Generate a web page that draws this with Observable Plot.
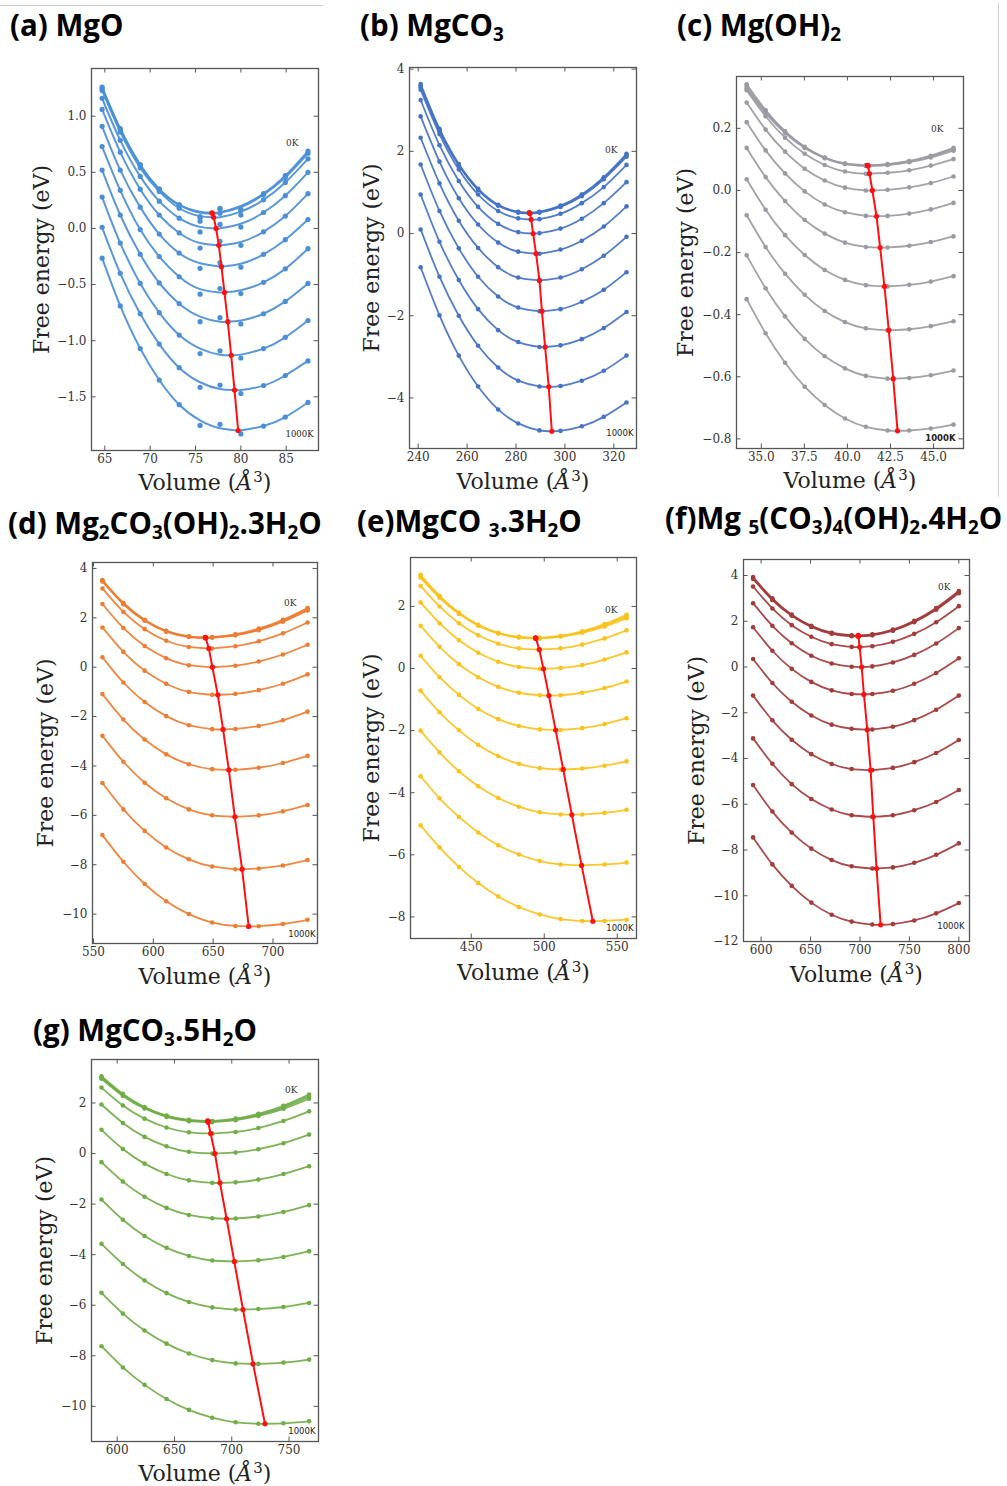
<!DOCTYPE html>
<html><head><meta charset="utf-8">
<script src="https://cdn.jsdelivr.net/npm/d3@7"></script>
<script src="https://cdn.jsdelivr.net/npm/@observablehq/plot@0.6"></script>
<style>
body{margin:0;background:#fff;}
#page{position:relative;width:1007px;height:1486px;overflow:hidden;background:#fff;}
.title{position:absolute;font-family:"Open Sans",sans-serif;font-weight:700;font-size:29.5px;line-height:29.5px;color:#000;white-space:nowrap;}
.title sub{font-size:0.64em;vertical-align:-0.28em;line-height:0;}
.panel{position:absolute;}
.rule{position:absolute;background:#cfcfcf;}
</style></head><body><div id="page"></div>
<script>
// ---------- data ----------
const tempLabels = ["0K", "1000K"];
const panelTitles = [
  "(a) MgO",
  "(b) MgCO<sub>3</sub>",
  "(c) Mg(OH)<sub>2</sub>",
  "(d) Mg<sub>2</sub>CO<sub>3</sub>(OH)<sub>2</sub>.3H<sub>2</sub>O",
  "(e)MgCO <sub>3</sub>.3H<sub>2</sub>O",
  "(f)Mg <sub>5</sub>(CO<sub>3</sub>)<sub>4</sub>(OH)<sub>2</sub>.4H<sub>2</sub>O",
  "(g) MgCO<sub>3</sub>.5H<sub>2</sub>O"
];

// (a) MgO
const volA = [64.7, 66.7, 68.9, 71.0, 73.2, 75.5, 77.7, 80.0, 82.5, 84.9, 87.4];
const fitA = [
  [1.26,.89,.57,.35,.21,.15,.145,.20,.31,.47,.69],
  [1.25,.88,.56,.35,.21,.14,.14,.19,.30,.455,.67],
  [1.23,.86,.54,.33,.18,.11,.10,.15,.255,.41,.62],
  [1.16,.785,.464,.243,.092,.014,.001,.042,.142,.292,.50],
  [1.06,.68,.35,.12,-.04,-.13,-.15,-.12,-.03,.11,.31],
  [.91,.52,.19,-.05,-.22,-.31,-.34,-.315,-.23,-.10,.08],
  [.73,.34,-.01,-.25,-.43,-.54,-.57,-.55,-.48,-.36,-.18],
  [.52,.12,-.23,-.485,-.67,-.785,-.83,-.82,-.76,-.65,-.49],
  [.28,-.13,-.49,-.75,-.95,-1.07,-1.125,-1.124,-1.07,-.97,-.82],
  [.01,-.40,-.76,-1.03,-1.24,-1.37,-1.43,-1.44,-1.40,-1.31,-1.18],
  [-.265,-.69,-1.07,-1.35,-1.57,-1.71,-1.78,-1.80,-1.76,-1.68,-1.55]
];
const dotsA = [
  [1.26,.89,.57,.35,.21,.105,.18,.17,.31,.47,.69],
  [1.25,.88,.56,.35,.21,.095,.175,.16,.30,.455,.67],
  [1.23,.86,.54,.33,.18,.065,.135,.12,.255,.41,.62],
  [1.16,.785,.464,.243,.092,-.031,.036,.012,.142,.292,.50],
  [1.06,.68,.35,.12,-.04,-.175,-.115,-.15,-.03,.11,.31],
  [.91,.52,.19,-.05,-.22,-.355,-.305,-.345,-.23,-.10,.08],
  [.73,.34,-.01,-.25,-.43,-.585,-.535,-.58,-.48,-.36,-.18],
  [.52,.12,-.23,-.485,-.67,-.83,-.795,-.85,-.76,-.65,-.49],
  [.28,-.13,-.49,-.75,-.95,-1.115,-1.09,-1.154,-1.07,-.97,-.82],
  [.01,-.40,-.76,-1.03,-1.24,-1.415,-1.395,-1.47,-1.40,-1.31,-1.18],
  [-.265,-.69,-1.07,-1.35,-1.57,-1.755,-1.745,-1.83,-1.76,-1.68,-1.55]
];
const minVolA = [76.8, 76.85, 77.0, 77.27, 77.57, 77.86, 78.19, 78.56, 78.93, 79.3, 79.7];
const minEA = [.14, .135, .10, 0, -.15, -.34, -.57, -.83, -1.13, -1.44, -1.80];

// (b) MgCO3
const volB = [241.0, 248.7, 256.6, 264.5, 272.7, 280.9, 289.6, 298.2, 306.9, 315.9, 325.2];
const energyB = [
  [3.64,2.55,1.69,1.09,.70,.53,.53,.68,.95,1.37,1.94],
  [3.60,2.52,1.67,1.07,.69,.52,.52,.66,.94,1.35,1.91],
  [3.56,2.50,1.66,1.06,.68,.51,.51,.65,.91,1.32,1.87],
  [3.50,2.42,1.56,.95,.55,.37,.35,.48,.74,1.13,1.67],
  [3.25,2.15,1.28,.65,.235,.035,.01,.12,.36,.74,1.25],
  [2.85,1.75,.86,.22,-.22,-.44,-.49,-.39,-.175,.17,.66],
  [2.33,1.22,.31,-.35,-.82,-1.07,-1.14,-1.07,-.87,-.54,-.08],
  [1.68,.55,-.36,-1.05,-1.53,-1.80,-1.89,-1.84,-1.66,-1.37,-.94],
  [.95,-.20,-1.13,-1.84,-2.35,-2.64,-2.76,-2.72,-2.57,-2.30,-1.91],
  [.10,-1.05,-2.00,-2.73,-3.26,-3.58,-3.72,-3.71,-3.58,-3.34,-2.97],
  [-.82,-1.99,-2.97,-3.72,-4.28,-4.62,-4.79,-4.80,-4.69,-4.46,-4.11]
];
const minVolB = [285.4, 285.5, 285.7, 286.2, 287.0, 288.2, 289.6, 290.6, 291.9, 293.4, 294.65];
const minEB = [.51, .50, .49, .34, 0, -.49, -1.14, -1.89, -2.76, -3.73, -4.81];

// (c) Mg(OH)2
const volC = [34.15, 35.25, 36.38, 37.52, 38.68, 39.86, 41.07, 42.33, 43.59, 44.84, 46.16];
const energyC = [
  [.342,.259,.191,.141,.106,.087,.081,.085,.095,.112,.137],
  [.335,.254,.188,.139,.105,.086,.080,.083,.093,.110,.133],
  [.328,.249,.185,.137,.104,.085,.079,.082,.091,.106,.128],
  [.323,.239,.170,.118,.082,.061,.054,.057,.065,.080,.101],
  [.283,.196,.125,.070,.032,.009,.000,.002,.010,.024,.045],
  [.220,.129,.055,-.003,-.045,-.070,-.082,-.082,-.0745,-.061,-.040],
  [.137,.043,-.034,-.095,-.139,-.168,-.182,-.1835,-.178,-.166,-.148],
  [.036,-.062,-.144,-.208,-.256,-.288,-.305,-.309,-.304,-.2935,-.276],
  [-.080,-.182,-.268,-.336,-.388,-.424,-.444,-.450,-.447,-.437,-.421],
  [-.209,-.315,-.4055,-.478,-.534,-.573,-.597,-.606,-.604,-.595,-.580],
  [-.350,-.460,-.555,-.632,-.691,-.7345,-.761,-.773,-.773,-.7665,-.754]
];
const minVolC = [41.16, 41.18, 41.2, 41.28, 41.45, 41.69, 41.9, 42.15, 42.4, 42.66, 42.91];
const minEC = [.081, .080, .079, .054, 0, -.083, -.184, -.309, -.450, -.606, -.774];

// (d) Mg2CO3(OH)2.3H2O
const volD = [557.5, 575.0, 592.8, 610.8, 629.7, 649.2, 668.6, 688.1, 708.3, 728.9];
const energyD = [
  [3.53,2.60,1.92,1.47,1.25,1.22,1.33,1.56,1.92,2.40],
  [3.50,2.58,1.90,1.46,1.24,1.21,1.31,1.53,1.88,2.35],
  [3.47,2.55,1.88,1.44,1.22,1.19,1.29,1.50,1.84,2.30],
  [3.19,2.24,1.54,1.07,.82,.76,.85,1.05,1.37,1.81],
  [2.56,1.59,.86,.365,.08,0,.06,.23,.515,.91],
  [1.61,.62,-.14,-.67,-1.00,-1.12,-1.08,-.93,-.67,-.29],
  [.40,-.62,-1.41,-1.98,-2.35,-2.51,-2.50,-2.38,-2.15,-1.80],
  [-1.09,-2.12,-2.93,-3.53,-3.93,-4.13,-4.155,-4.07,-3.88,-3.59],
  [-2.78,-3.83,-4.68,-5.31,-5.76,-6.00,-6.06,-6.00,-5.84,-5.58],
  [-4.69,-5.76,-6.63,-7.30,-7.78,-8.07,-8.18,-8.15,-8.03,-7.81],
  [-6.80,-7.88,-8.78,-9.48,-10.00,-10.34,-10.48,-10.49,-10.40,-10.23]
];
const minVolD = [643.4, 643.6, 643.8, 646.4, 649.4, 653.9, 658.3, 663.1, 668.1, 674.2, 679.7];
const minED = [1.21, 1.20, 1.18, .76, 0, -1.12, -2.52, -4.16, -6.06, -8.18, -10.50];

// (e) MgCO3.3H2O
const volE = [415.3, 428.3, 441.6, 454.8, 468.5, 482.6, 497.0, 511.2, 526.0, 541.3, 556.4];
const energyE = [
  [3.02,2.34,1.80,1.41,1.15,1.02,.99,1.05,1.20,1.43,1.73],
  [2.98,2.31,1.78,1.40,1.14,1.01,.98,1.04,1.18,1.39,1.68],
  [2.93,2.28,1.76,1.38,1.13,1.00,.97,1.03,1.15,1.35,1.62],
  [2.66,2.00,1.46,1.07,.80,.65,.61,.65,.77,.97,1.23],
  [2.13,1.46,.91,.51,.22,.05,-.01,.02,.11,.29,.52],
  [1.38,.70,.14,-.28,-.59,-.78,-.86,-.86,-.78,-.63,-.42],
  [.41,-.28,-.85,-1.30,-1.63,-1.85,-1.96,-1.98,-1.92,-1.79,-1.60],
  [-.71,-1.41,-1.99,-2.46,-2.82,-3.07,-3.21,-3.25,-3.22,-3.13,-2.99],
  [-2.00,-2.70,-3.31,-3.79,-4.17,-4.45,-4.63,-4.70,-4.70,-4.65,-4.55],
  [-3.47,-4.18,-4.78,-5.28,-5.69,-5.99,-6.20,-6.31,-6.34,-6.31,-6.25],
  [-5.05,-5.76,-6.39,-6.91,-7.34,-7.68,-7.92,-8.07,-8.13,-8.13,-8.09]
];
const minVolE = [494.0, 494.1, 494.3, 496.6, 499.5, 503.2, 507.8, 513.0, 518.9, 525.6, 533.3];
const minEE = [.99, .98, .97, .61, -.01, -.87, -1.98, -3.25, -4.71, -6.34, -8.14];

// (f) Mg5(CO3)4(OH)2.4H2O
const volF = [591.9, 611.4, 631.0, 650.8, 671.4, 691.6, 712.5, 733.3, 754.9, 777.1, 800.0];
const energyF = [
  [3.93,3.00,2.29,1.80,1.50,1.385,1.43,1.64,2.02,2.58,3.32],
  [3.89,2.96,2.26,1.77,1.48,1.365,1.41,1.61,1.99,2.54,3.28],
  [3.85,2.93,2.24,1.75,1.45,1.345,1.385,1.59,1.96,2.50,3.23],
  [3.52,2.56,1.83,1.32,1.00,.88,.91,1.10,1.45,1.96,2.66],
  [2.79,1.80,1.04,.495,.156,.013,.026,.198,.529,1.027,1.70],
  [1.74,.71,-.08,-.65,-1.02,-1.18,-1.18,-1.04,-.73,-.26,.38],
  [.35,-.70,-1.52,-2.12,-2.52,-2.70,-2.73,-2.61,-2.32,-1.87,-1.25],
  [-1.25,-2.33,-3.18,-3.81,-4.24,-4.46,-4.51,-4.41,-4.16,-3.76,-3.19],
  [-3.12,-4.23,-5.12,-5.77,-6.23,-6.48,-6.55,-6.48,-6.26,-5.90,-5.38],
  [-5.16,-6.32,-7.24,-7.94,-8.44,-8.71,-8.81,-8.76,-8.56,-8.21,-7.71],
  [-7.45,-8.63,-9.57,-10.30,-10.83,-11.13,-11.26,-11.24,-11.08,-10.77,-10.32]
];
const minVolF = [698.2, 698.3, 698.4, 699.7, 701.7, 704.0, 707.4, 710.8, 713.5, 716.8, 720.9];
const minEF = [1.38, 1.36, 1.34, .87, 0, -1.20, -2.74, -4.51, -6.55, -8.81, -11.27];

// (g) MgCO3.5H2O
const volG = [586.3, 605.0, 623.9, 643.1, 662.6, 683.0, 703.4, 723.2, 745.1, 767.5];
const energyG = [
  [3.06,2.36,1.84,1.50,1.33,1.29,1.38,1.57,1.89,2.33],
  [3.01,2.32,1.81,1.48,1.31,1.27,1.35,1.53,1.83,2.25],
  [2.96,2.28,1.78,1.45,1.28,1.24,1.32,1.49,1.77,2.17],
  [2.61,1.90,1.38,1.03,.84,.79,.855,1.01,1.29,1.67],
  [1.94,1.21,.66,.285,.07,0,.043,.172,.41,.75],
  [.94,.18,-.40,-.81,-1.06,-1.16,-1.14,-1.03,-.81,-.50],
  [-.34,-1.11,-1.71,-2.15,-2.43,-2.56,-2.57,-2.49,-2.31,-2.04],
  [-1.82,-2.62,-3.26,-3.73,-4.05,-4.23,-4.27,-4.22,-4.09,-3.86],
  [-3.57,-4.37,-5.02,-5.52,-5.87,-6.085,-6.17,-6.15,-6.07,-5.91],
  [-5.51,-6.33,-7.00,-7.52,-7.91,-8.17,-8.30,-8.32,-8.27,-8.15],
  [-7.62,-8.46,-9.15,-9.71,-10.14,-10.45,-10.63,-10.69,-10.67,-10.59]
];
const minVolG = [679.0, 679.2, 679.4, 681.6, 685.3, 689.7, 695.5, 702.2, 709.8, 718.6, 729.0];
const minEG = [1.29, 1.27, 1.24, .79, 0, -1.16, -2.58, -4.27, -6.17, -8.32, -10.69];

// tick values
const xTicksA = [65, 70, 75, 80, 85], yTicksA = [1.0, 0.5, 0.0, -0.5, -1.0, -1.5];
const xTicksB = [240, 260, 280, 300, 320], yTicksB = [4, 2, 0, -2, -4];
const xTicksC = [35, 37.5, 40, 42.5, 45], yTicksC = [0.2, 0.0, -0.2, -0.4, -0.6, -0.8];
const xTicksD = [550, 600, 650, 700], yTicksD = [4, 2, 0, -2, -4, -6, -8, -10];
const xTicksE = [450, 500, 550], yTicksE = [2, 0, -2, -4, -6, -8];
const xTicksF = [600, 650, 700, 750, 800], yTicksF = [4, 2, 0, -2, -4, -6, -8, -10, -12];
const xTicksG = [600, 650, 700, 750], yTicksG = [2, 0, -2, -4, -6, -8, -10];

// ---------- drawing ----------
const page = document.getElementById("page");
function addTitle(html, x, baseline) {
  const d = document.createElement("div");
  d.className = "title"; d.innerHTML = html;
  d.style.left = x + "px"; d.style.top = (baseline - 26) + "px";
  page.appendChild(d);
}
function addRule(x, y, w, h) {
  const d = document.createElement("div"); d.className = "rule";
  Object.assign(d.style, {left: x + "px", top: y + "px", width: w + "px", height: h + "px"});
  page.appendChild(d);
}
const f1 = d3.format(".1f"), fd = d3.format("d");

function addPanel(c) {
  const [fl, ft, fr, fb] = c.frame;
  const mL = 90, mR = 14, mT = 12, mB = 56;
  const iw = fr - fl, ih = fb - ft;
  const lineRows = [], dotRows = [], minRows = [];
  c.energy.forEach((row, k) => {
    row.forEach((f, j) => lineRows.push({v: c.vol[j], f, k}));
    lineRows.push({v: c.minVol[k], f: c.minEnergy[k], k});
    (c.dots ? c.dots[k] : row).forEach((f, j) => dotRows.push({v: c.vol[j], f, k}));
    minRows.push({v: c.minVol[k], f: c.minEnergy[k]});
  });
  lineRows.sort((a, b) => a.k - b.k || a.v - b.v);
  const sw = c.lineWidth || 1.8, r = c.dotR || 2.3;
  const svg = Plot.plot({
    width: iw + mL + mR, height: ih + mT + mB,
    marginLeft: mL, marginRight: mR, marginTop: mT, marginBottom: mB,
    x: {domain: c.xDomain}, y: {domain: c.yDomain},
    style: {fontFamily: '"DejaVu Serif", serif', background: "transparent", color: "#2a2a2a", overflow: "visible"},
    marks: [
      Plot.line(lineRows, {x: "v", y: "f", z: "k", stroke: c.color, strokeWidth: sw, strokeOpacity: 0.92, curve: "natural"}),
      Plot.dot(dotRows, {x: "v", y: "f", r, fill: c.color, stroke: "none"}),
      Plot.line(minRows, {x: "v", y: "f", stroke: "#ff1010", strokeWidth: 2}),
      Plot.dot(minRows, {x: "v", y: "f", r: 2.6, fill: "#ff1010"}),
      Plot.tickX(c.xTicks, {x: d => d, insetTop: ih - 4.5, stroke: "#555"}),
      Plot.tickX(c.xTicks, {x: d => d, insetBottom: ih - 4.5, stroke: "#555"}),
      Plot.tickY(c.yTicks, {y: d => d, insetRight: iw - 4.5, stroke: "#555"}),
      Plot.tickY(c.yTicks, {y: d => d, insetLeft: iw - 4.5, stroke: "#555"}),
      Plot.frame({stroke: "#555", strokeWidth: 1.3}),
      Plot.axisX({ticks: c.xTicks, tickFormat: c.xFormat, tickSize: 0, tickPadding: 4, fontSize: 12, label: null, fill: "#333"}),
      Plot.axisY({ticks: c.yTicks, tickFormat: c.yFormat, tickSize: 0, tickPadding: 5, fontSize: 12, label: null, fill: "#333"}),
      Plot.text(["Free energy (eV)"], {frameAnchor: "left", dx: c.yLabelDx, rotate: -90, fontSize: 22, fill: "#222", textAnchor: "middle", lineAnchor: "middle"}),
      Plot.text(["Volume (Å³)"], {frameAnchor: "bottom", dy: c.xLabelDy || 32, fontSize: 22, fill: "#222", textAnchor: "middle", lineAnchor: "middle"}),
      Plot.text([tempLabels[0]], {frameAnchor: "top-right", dx: c.k0[0], dy: c.k0[1], textAnchor: "end", lineAnchor: "middle", fontSize: 9, fill: "#333"}),
      Plot.text([tempLabels[1]], {frameAnchor: "bottom-right", dx: c.k1[0], dy: c.k1[1], textAnchor: "end", lineAnchor: "middle", fontSize: 8.5,
        fill: "#222", fontFamily: c.k1Serif ? '"DejaVu Serif", serif' : '"DejaVu Sans", sans-serif', fontWeight: c.k1Bold ? "bold" : "normal"})
    ]
  });
  svg.querySelectorAll("text").forEach(t => {
    if (t.textContent === "Volume (Å³)") {
      t.innerHTML = 'Volume (<tspan font-style="italic">Å</tspan><tspan dx="1" dy="-8" font-size="15">3</tspan><tspan dy="8">)</tspan>';
    }
  });
  const holder = document.createElement("div");
  holder.className = "panel";
  holder.style.left = (fl - mL) + "px";
  holder.style.top = (ft - mT) + "px";
  holder.appendChild(svg);
  page.appendChild(holder);
}

addRule(0, 5, 323, 1);
addRule(998, 3, 1, 494);

addPanel({vol: volA, energy: fitA, dots: dotsA, minVol: minVolA, minEnergy: minEA, color: "#4a8fd6",
  frame: [91, 68, 318, 450], xDomain: [63.53, 88.56], yDomain: [-1.978, 1.425],
  xTicks: xTicksA, yTicks: yTicksA, xFormat: fd, yFormat: f1, yLabelDx: -50, xLabelDy: 32,
  k0: [-20, 75], k1: [-5, -16], k1Serif: true, lineWidth: 2, dotR: 2.6});
addPanel({vol: volB, energy: energyB, minVol: minVolB, minEnergy: minEB, color: "#4472c4",
  frame: [409, 67, 636, 448], xDomain: [236.44, 329.28], yDomain: [-5.23, 4.04],
  xTicks: xTicksB, yTicks: yTicksB, xFormat: fd, yFormat: fd, yLabelDx: -38, xLabelDy: 33,
  k0: [-19, 83], k1: [-3, -15]});
addPanel({vol: volC, energy: energyC, minVol: minVolC, minEnergy: minEC, color: "#9a9aa2",
  frame: [736, 76, 963, 448], xDomain: [33.56, 46.74], yDomain: [-0.831, 0.367],
  xTicks: xTicksC, yTicks: yTicksC, xFormat: f1, yFormat: f1, yLabelDx: -51, xLabelDy: 32,
  k0: [-20, 53], k1: [-8, -10], k1Bold: true});
addPanel({vol: volD, energy: energyD, minVol: minVolD, minEnergy: minED, color: "#ed7d31",
  frame: [92, 562, 317, 943], xDomain: [549.2, 737.2], yDomain: [-11.19, 4.24],
  xTicks: xTicksD, yTicks: yTicksD, xFormat: fd, yFormat: fd, yLabelDx: -47, xLabelDy: 33,
  k0: [-21, 41], k1: [-2, -9]});
addPanel({vol: volE, energy: energyE, minVol: minVolE, minEnergy: minEE, color: "#fbc21b",
  frame: [410, 557, 636, 938], xDomain: [408.4, 563.2], yDomain: [-8.695, 3.576],
  xTicks: xTicksE, yTicks: yTicksE, xFormat: fd, yFormat: fd, yLabelDx: -39, xLabelDy: 34,
  k0: [-19, 53], k1: [-3, -10]});
addPanel({vol: volF, energy: energyF, minVol: minVolF, minEnergy: minEF, color: "#a33b3b",
  frame: [743, 559, 969, 941], xDomain: [582.2, 810.8], yDomain: [-12, 4.70],
  xTicks: xTicksF, yTicks: yTicksF, xFormat: fd, yFormat: fd, yLabelDx: -47, xLabelDy: 33,
  k0: [-19, 28], k1: [-5, -15]});
addPanel({vol: volG, energy: energyG, minVol: minVolG, minEnergy: minEG, color: "#70ad47",
  frame: [91, 1059, 318, 1441], xDomain: [577.6, 775.7], yDomain: [-11.39, 3.72],
  xTicks: xTicksG, yTicks: yTicksG, xFormat: fd, yFormat: fd, yLabelDx: -47, xLabelDy: 32,
  k0: [-21, 31], k1: [-3, -10]});

const titlePos = [[10, 36], [360, 36], [677, 36], [8, 534], [357, 532], [665, 529], [33, 1041]];
panelTitles.forEach((t, i) => addTitle(t, titlePos[i][0], titlePos[i][1]));
</script>
</body></html>
